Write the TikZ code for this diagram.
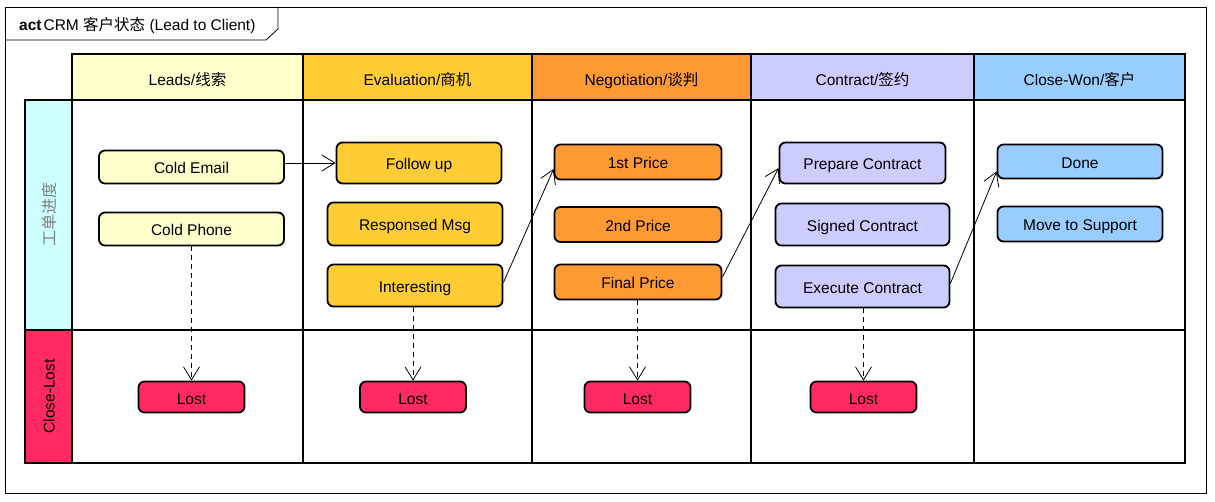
\documentclass[tikz,border=0pt]{standalone}
\usepackage{fontspec}
\setmainfont{Liberation Sans}
\newfontfamily\cjk{Noto Sans CJK SC}
\usetikzlibrary{arrows.meta}

\definecolor{leadyellow}{HTML}{FFFFCC}
\definecolor{evalgold}{HTML}{FFCC33}
\definecolor{negorange}{HTML}{FF9933}
\definecolor{contractlav}{HTML}{CCCCFF}
\definecolor{wonblue}{HTML}{99CCFF}
\definecolor{progcyan}{HTML}{CCFFFF}
\definecolor{lostred}{HTML}{FF2A62}

\tikzset{
  lanehead/.style={draw, line width=2.6pt, inner sep=0pt, text height=17pt, text depth=0pt, font=\fontsize{15.5}{18}\selectfont},
  state/.style={draw, line width=1.8pt, rounded corners=6pt, inner sep=0pt, text height=15pt, text depth=1pt, font=\fontsize{15.5}{18}\selectfont},
  flow/.style={-{Straight Barb[length=13pt,width=16pt]}, line width=0.8pt},
  lostflow/.style={flow, dash pattern=on 5pt off 4pt}
}

\begin{document}
\begin{tikzpicture}[x=1pt,y=-1pt]
                \useasboundingbox (0,0) rectangle (1215,502);

                \draw[line width=0.8pt] (5,7) rectangle (1206,493); % frame
                \draw[line width=0.8pt] (5,40) -- (266,40) -- (278,29) -- (278,7); % tab
                \node[anchor=base west, inner sep=0pt, font=\fontsize{15.5}{18}\selectfont] (title) at (19,31)
                {\textbf{act}\hspace{2pt}CRM {\cjk 客户状态} (Lead to Client)};

                \draw[line width=2.6pt] (25,100) rectangle (1185,463); % lanes
                \draw[line width=2.6pt] (25,330) -- (1185,330);
                \draw[line width=2.6pt] (72,100) -- (72,463);
                \draw[line width=2.6pt] (303,100) -- (303,463);
                \draw[line width=2.6pt] (532,100) -- (532,463);
                \draw[line width=2.6pt] (751,100) -- (751,463);
                \draw[line width=2.6pt] (974,100) -- (974,463);

                \node[lanehead, fill=leadyellow, minimum width=231pt, minimum height=46pt] (leads) at (187.5,77) {Leads/{\cjk 线索}};
                \node[lanehead, fill=evalgold, minimum width=229pt, minimum height=46pt] (evaluation) at (417.5,77) {Evaluation/{\cjk 商机}};
                \node[lanehead, fill=negorange, minimum width=219pt, minimum height=46pt] (negotiation) at (641.5,77) {Negotiation/{\cjk 谈判}};
                \node[lanehead, fill=contractlav, minimum width=223pt, minimum height=46pt] (contract) at (862.5,77) {Contract/{\cjk 签约}};
                \node[lanehead, fill=wonblue, minimum width=211pt, minimum height=46pt] (closewon) at (1079.5,77) {Close-Won/{\cjk 客户}};

                \node[lanehead, fill=progcyan, text=gray, rotate=90, text height=13pt, minimum width=230pt, minimum height=47pt,
                  font=\fontsize{16}{18}\selectfont] (progress) at (48.5,215) {\cjk 工单进度};
                \node[lanehead, fill=lostred, rotate=90, text height=12pt, minimum width=133pt, minimum height=47pt] (closelost) at (48.5,396.5) {Close-Lost};

                % leads
                \node[state, fill=leadyellow, minimum width=185pt, minimum height=33pt] (coldemail) at (191.5,167) {Cold Email};
                \node[state, fill=leadyellow, minimum width=185pt, minimum height=33pt] (coldphone) at (191.5,229) {Cold Phone};

                % evaluation
                \node[state, fill=evalgold, minimum width=165pt, minimum height=41pt] (followup) at (419,163) {Follow up};
                \node[state, fill=evalgold, minimum width=175pt, minimum height=43pt] (responsed) at (415,224) {Responsed Msg};
                \node[state, fill=evalgold, minimum width=175pt, minimum height=42pt] (interesting) at (415,285.5) {Interesting};

                % negotiation
                \node[state, fill=negorange, minimum width=167pt, minimum height=35pt] (price1) at (638,162) {1st Price};
                \node[state, fill=negorange, minimum width=167pt, minimum height=35pt] (price2) at (638,224.5) {2nd Price};
                \node[state, fill=negorange, minimum width=167pt, minimum height=35pt] (finalprice) at (638,282) {Final Price};

                % contract
                \node[state, fill=contractlav, minimum width=166pt, minimum height=41pt] (prepare) at (862.5,163) {Prepare Contract};
                \node[state, fill=contractlav, minimum width=174pt, minimum height=42pt] (signed) at (862.5,224.5) {Signed Contract};
                \node[state, fill=contractlav, minimum width=174pt, minimum height=42pt] (execute) at (862.5,286.5) {Execute Contract};

                % close-won
                \node[state, fill=wonblue, minimum width=165pt, minimum height=34pt] (done) at (1080,161.5) {Done};
                \node[state, fill=wonblue, minimum width=165pt, minimum height=35pt] (support) at (1080,224) {Move to Support};

                % close-lost
                \node[state, fill=lostred, minimum width=106pt, minimum height=31pt] (lost1) at (191.5,397) {Lost};
                \node[state, fill=lostred, minimum width=106pt, minimum height=31pt] (lost2) at (413,397) {Lost};
                \node[state, fill=lostred, minimum width=106pt, minimum height=31pt] (lost3) at (637.5,397) {Lost};
                \node[state, fill=lostred, minimum width=106pt, minimum height=31pt] (lost4) at (863.5,397) {Lost};

                \draw[flow] (coldemail.east |- followup.west) -- (followup.west);
                \draw[flow] ([yshift=3pt]interesting.east) -- ([yshift=-7pt]price1.west);
                \draw[flow] ([yshift=5pt]finalprice.east) -- ([yshift=-5pt]prepare.west);
                \draw[flow] ([yshift=3pt]execute.east) -- ([yshift=-10pt]done.west);

                \draw[lostflow] (coldphone.south) -- (lost1.north); % lost
                \draw[lostflow] (lost2.north |- interesting.south) -- (lost2.north);
                \draw[lostflow] (lost3.north |- finalprice.south) -- (lost3.north);
                \draw[lostflow] (lost4.north |- execute.south) -- (lost4.north);
            \end{tikzpicture}
\end{document}
